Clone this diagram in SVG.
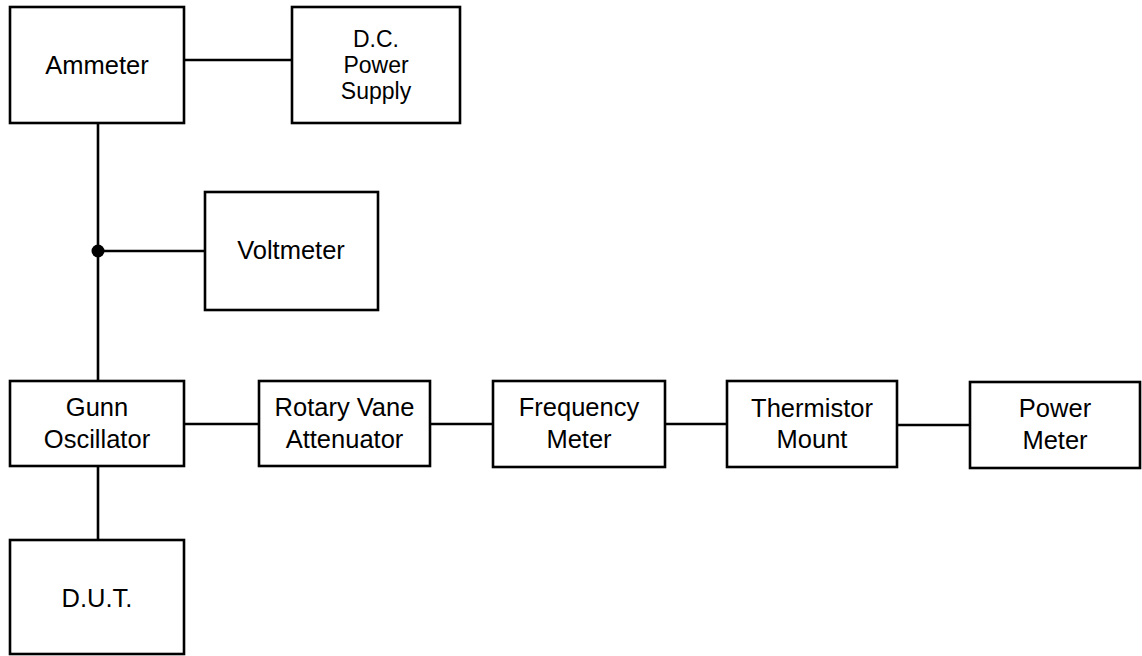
<svg xmlns="http://www.w3.org/2000/svg" width="1142" height="656" viewBox="0 0 1142 656">
<style>
.box{fill:#fff;stroke:#000;stroke-width:2.6}
.ln{stroke:#000;stroke-width:2.6;fill:none}
text{font-family:"Liberation Sans",Arial,sans-serif;font-size:25.5px;text-anchor:middle;fill:#000}
.tight{font-size:23px}
</style>
<rect width="1142" height="656" fill="#fff"/>
<g id="connectors">
<line class="ln" x1="184" y1="60" x2="292" y2="60"/>
<line class="ln" x1="98" y1="123" x2="98" y2="381"/>
<line class="ln" x1="98" y1="251" x2="205" y2="251"/>
<circle cx="98" cy="251" r="6.5" fill="#000"/>
<line class="ln" x1="98" y1="466" x2="98" y2="540"/>
<line class="ln" x1="184" y1="424" x2="259" y2="424"/>
<line class="ln" x1="430" y1="424" x2="493" y2="424"/>
<line class="ln" x1="665" y1="424" x2="727" y2="424"/>
<line class="ln" x1="897" y1="425" x2="970" y2="425"/>
</g>
<g id="ammeter"><rect class="box" x="10" y="7" width="174" height="116"/><text x="97" y="74">Ammeter</text></g>
<g id="dcpower"><rect class="box" x="292" y="7" width="168" height="116"/><text class="tight" x="376" y="47">D.C.</text><text class="tight" x="376" y="73">Power</text><text class="tight" x="376" y="99">Supply</text></g>
<g id="voltmeter"><rect class="box" x="205" y="192" width="173" height="118"/><text x="291" y="259">Voltmeter</text></g>
<g id="gunn"><rect class="box" x="10" y="381" width="174" height="85"/><text x="97" y="416">Gunn</text><text x="97" y="448">Oscillator</text></g>
<g id="rva"><rect class="box" x="259" y="381" width="171" height="85"/><text x="344.5" y="416">Rotary Vane</text><text x="344.5" y="448">Attenuator</text></g>
<g id="freq"><rect class="box" x="493" y="381" width="172" height="86"/><text x="579" y="416">Frequency</text><text x="579" y="448">Meter</text></g>
<g id="therm"><rect class="box" x="727" y="381" width="170" height="86"/><text x="812" y="417">Thermistor</text><text x="812" y="448">Mount</text></g>
<g id="powermeter"><rect class="box" x="970" y="382" width="170" height="86"/><text x="1055" y="417">Power</text><text x="1055" y="449">Meter</text></g>
<g id="dut"><rect class="box" x="10" y="540" width="174" height="114"/><text x="97" y="607">D.U.T.</text></g>
</svg>
